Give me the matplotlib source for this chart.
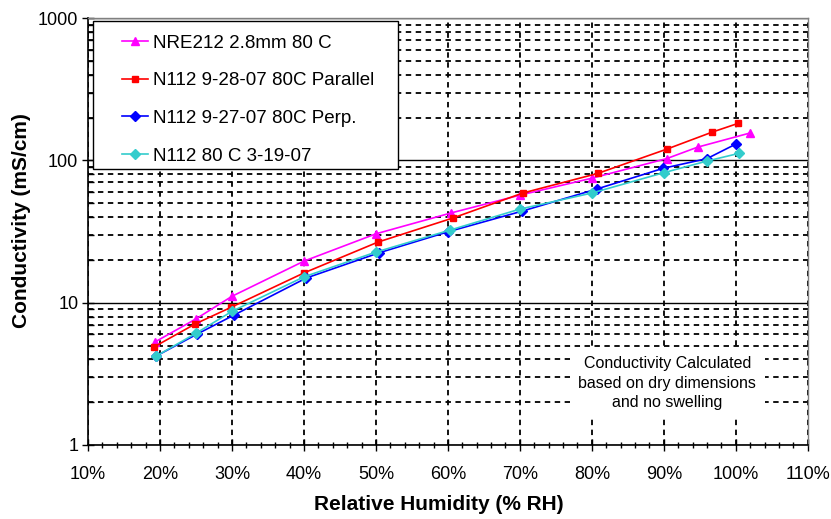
import numpy as np
import matplotlib
matplotlib.use("Agg")
import matplotlib.pyplot as plt
from matplotlib.patches import Rectangle
from matplotlib.ticker import FixedLocator, FuncFormatter, LogLocator, NullFormatter

plt.rcParams['font.family'] = ['Liberation Sans', 'DejaVu Sans']

# relative humidity (fraction) and conductivity (mS/cm)
rh_nre = [0.193, 0.25, 0.30, 0.40, 0.50, 0.604, 0.70, 0.80, 0.904, 0.947, 1.02]
cond_nre = [5.3, 7.7, 11.1, 19.6, 30.5, 42.7, 57, 75, 103, 124, 156]

rh_par = [0.192, 0.249, 0.299, 0.40, 0.503, 0.607, 0.704, 0.808, 0.904, 0.967, 1.003]
cond_par = [4.9, 7.1, 9.3, 16.2, 26.7, 39.4, 59, 81, 120, 158, 182]

rh_perp = [0.194, 0.251, 0.303, 0.403, 0.504, 0.60, 0.703, 0.807, 0.899, 0.96, 1.001]
cond_perp = [4.2, 6.0, 8.2, 14.9, 22.4, 31.5, 44, 63, 88, 103, 131]

rh_n112 = [0.194, 0.25, 0.30, 0.40, 0.50, 0.603, 0.70, 0.80, 0.90, 0.96, 1.004]
cond_n112 = [4.2, 6.1, 8.7, 15.2, 22.7, 32.4, 45.5, 59, 82, 99, 112]

labels = ['NRE212 2.8mm 80 C', 'N112 9-28-07 80C Parallel',
          'N112 9-27-07 80C Perp.', 'N112 80 C 3-19-07']

fig = plt.figure(figsize=(8.31, 5.19), dpi=100)
ax = fig.add_axes([0.106, 0.1426, 0.866, 0.8224])

ax.plot(rh_nre, cond_nre, color='#FF00FF', marker='^', ms=6, lw=1.2, label=labels[0])
ax.plot(rh_par, cond_par, color='#FF0000', marker='s', ms=5, lw=1.2, label=labels[1])
ax.plot(rh_perp, cond_perp, color='#0000FF', marker='D', ms=5, lw=1.2, label=labels[2])
ax.plot(rh_n112, cond_n112, color='#33CCCC', marker='D', ms=5, lw=1.2, label=labels[3])

ax.set_yscale('log')
ax.set_xlim(0.1, 1.1)
ax.set_ylim(1, 1000)

# grid lines like the spreadsheet chart
ax.xaxis.set_major_locator(FixedLocator(np.arange(0.1, 1.11, 0.1)))
ax.xaxis.set_minor_locator(FixedLocator(np.arange(0.1, 1.101, 0.02)))
ax.xaxis.set_major_formatter(FuncFormatter(lambda v, p: '%d%%' % round(v * 100)))
ax.yaxis.set_major_locator(FixedLocator([1, 10, 100, 1000]))
ax.yaxis.set_minor_locator(LogLocator(base=10, subs=np.arange(2, 10)))
ax.yaxis.set_major_formatter(FuncFormatter(lambda v, p: '%d' % v))
ax.yaxis.set_minor_formatter(NullFormatter())

ax.grid(True, axis='y', which='major', color='black', lw=1.0, ls='-', zorder=0)
ax.grid(True, axis='y', which='minor', color='black', lw=1.3, ls=(0, (3, 2.5)), zorder=0)
ax.grid(True, axis='x', which='major', color='black', lw=1.3, ls=(0, (3, 2.5)), zorder=0)
ax.set_axisbelow(True)

ax.tick_params(axis='both', which='major', direction='inout', length=8, width=1,
               labelsize=13, colors='black')
ax.tick_params(axis='both', which='minor', direction='inout', length=4, width=1)
ax.tick_params(axis='x', pad=11)
ax.tick_params(axis='y', pad=3)
ax.tick_params(axis='y', which='minor', direction='in', length=4)

for s in ['left', 'bottom']:
    ax.spines[s].set_linewidth(1.2)
    ax.spines[s].set_color('black')
for s in ['top', 'right']:
    ax.spines[s].set_color('#808080')
    ax.spines[s].set_linewidth(1.0)

ax.set_xlabel('Relative Humidity (% RH)', fontsize=15, fontweight='bold')
ax.set_ylabel('Conductivity (mS/cm)', fontsize=15, fontweight='bold')
ax.xaxis.set_label_coords(0.4875, -0.118)
ax.yaxis.set_label_coords(-0.079, 0.525)

# legend box drawn separately so the padding matches
ax.add_patch(Rectangle((0.0069, 0.646), 0.4237, 0.347, transform=ax.transAxes,
                       facecolor='white', edgecolor='black', lw=1.0, zorder=4))
leg = ax.legend(loc='upper left', bbox_to_anchor=(0.047, 0.962), fontsize=13.5,
                frameon=False, handlelength=1.4, handletextpad=0.27,
                labelspacing=1.1, borderpad=0, borderaxespad=0)
leg.set_zorder(5)

ax.text(0.805, 0.145, 'Conductivity Calculated\nbased on dry dimensions\nand no swelling',
        transform=ax.transAxes, ha='center', va='center', fontsize=11.5,
        linespacing=1.35,
        bbox=dict(facecolor='white', edgecolor='none', pad=6), zorder=3)

fig.savefig('out.png', dpi=100)
